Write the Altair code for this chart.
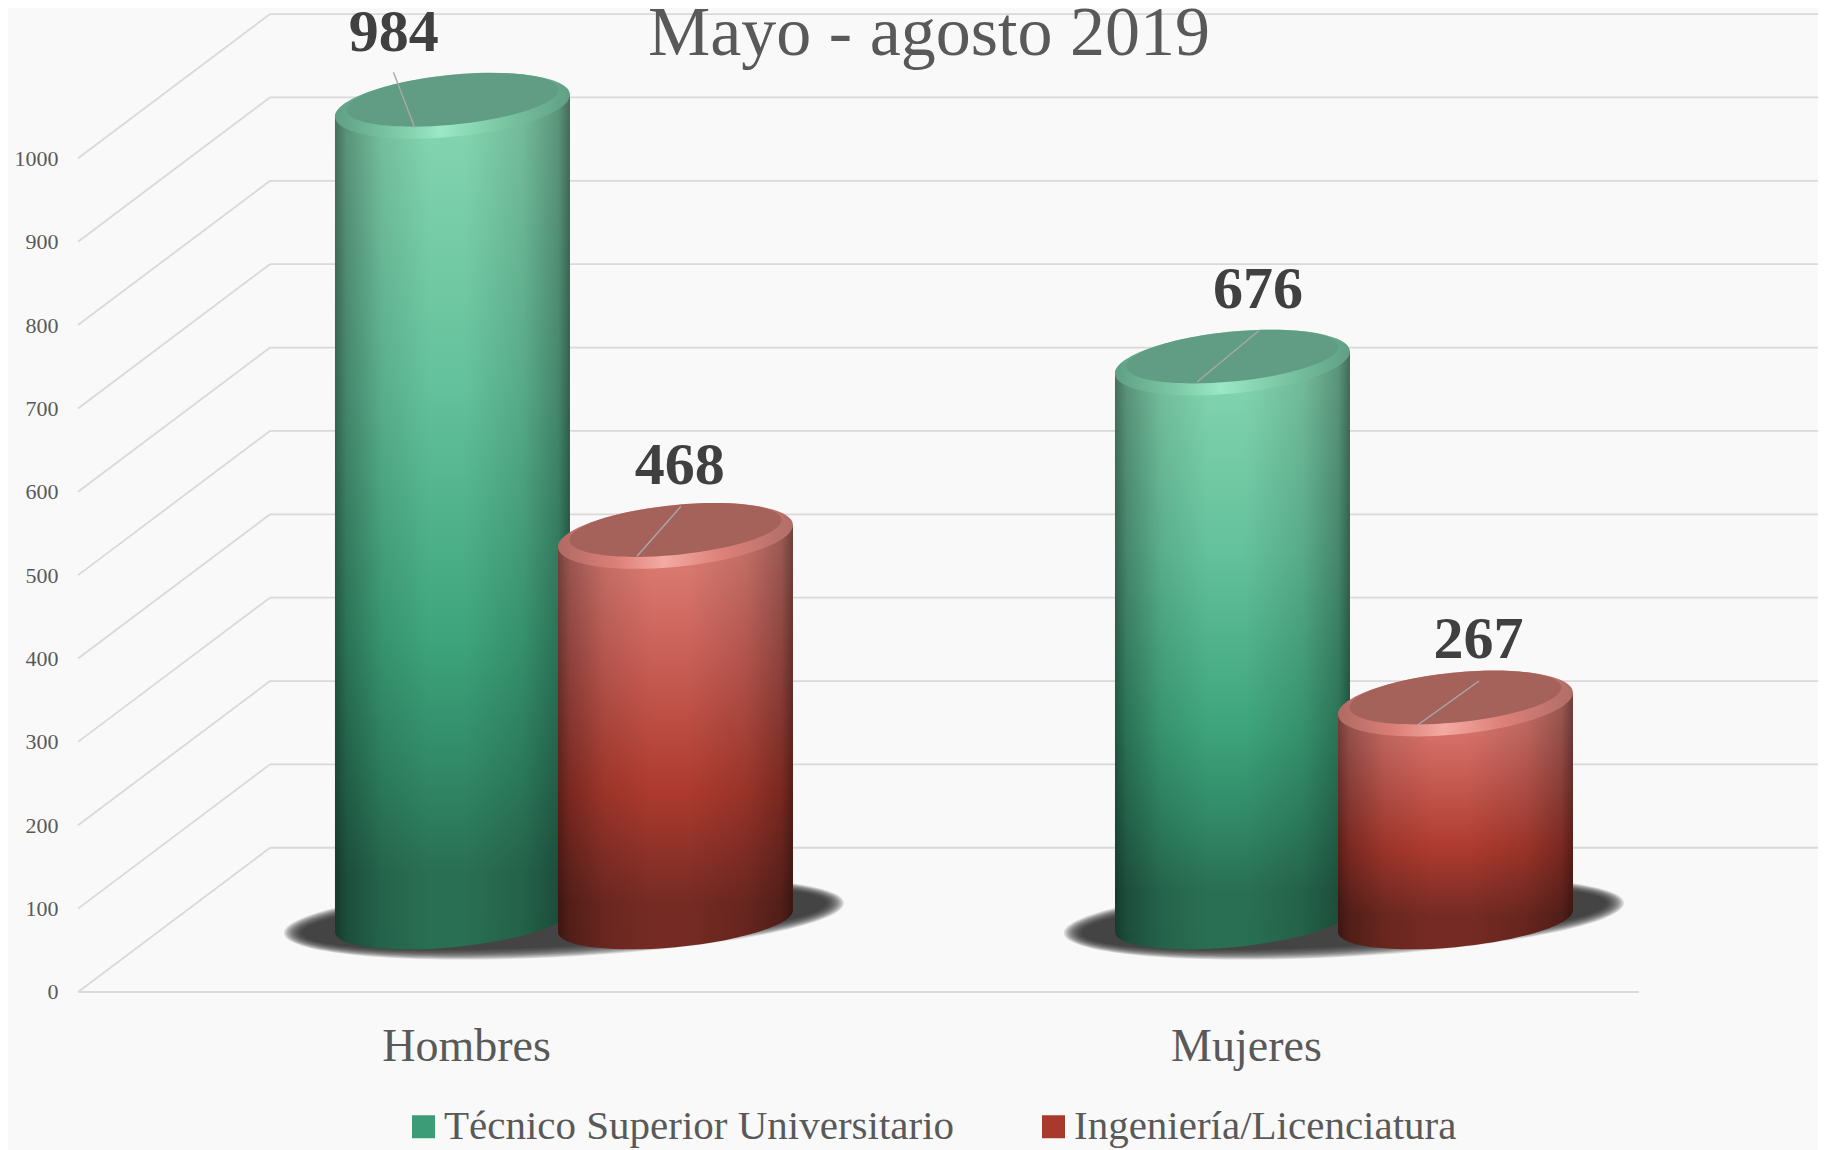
import altair as alt
import pandas as pd

categories = ["Hombres", "Mujeres"]
series_names = ["Técnico Superior Universitario", "Ingeniería/Licenciatura"]
tsu_values = [984, 676]
ing_values = [468, 267]
grid_values = list(range(0, 1001, 100))
title_text = "Mayo - agosto 2019"

FONT = "Liberation Serif"
TEXT = "#595959"
GRID = "#d9d9d9"
BG = "#f9f9f9"

# geometry of the pseudo-3D drawing
UX = 780.0        # pixels per category step
UY = 0.8337       # pixels per value unit
SERIES_OFF = [-111.5 / UX, 111.5 / UX]
BAR_W = 235.0
HALF = BAR_W / 2 / UX
TILT = 11 / UY
TOP_DEPTH = 79.0
BASE_DEPTH = 85.0
BACK_DEPTH = 173.0
FRONT_L, BACK_L, FRONT_R, BACK_R = -0.623, -0.3769, 1.378, 1.6077

# per bar: label centre, baseline and leader line offsets (pixels from the top face centre)
label_dx = {0: [-58.7, 25.6], 1: [4.3, 23.0]}
label_dy = {0: [55, 55], 1: [51.5, 46]}
lead = {
    0: [(-59, -33.5, -37.7, 22), (26.3, -31.8, -35.5, 19.5)],
    1: [(5.3, -29.4, -38.7, 20.6), (23.5, -22.5, -38.5, 22)],
}

palette = {
    0: dict(
        flat="#3d9c78",
        body=[(0, "#86d6b1"), (.35, "#63c19b"), (.65, "#3da47b"), (.8, "#318a68"), (.93, "#296f54"), (1, "#296f54")],
        rim=[(0, "#5f9f84"), (.25, "#7cc8a5"), (.45, "#9ae8c6"), (.7, "#7cc8a5"), (1, "#609f85")],
        face="#619c84",
        end="#296f54",
    ),
    1: dict(
        flat="#a8392d",
        body=[(0, "#e0847a"), (.3, "#cb625a"), (.65, "#ae3a2e"), (.8, "#8f3229"), (.93, "#752b23"), (1, "#752b23")],
        rim=[(0, "#b06a64"), (.25, "#dd8078"), (.45, "#f4aaa3"), (.7, "#dd8078"), (1, "#b06e68")],
        face="#a5625b",
        end="#752b23",
    ),
}

SHADE_STOPS = [(0, .48), (.05, .3), (.2, .1), (.4, 0), (.55, 0), (.8, .12), (.95, .3), (1, .5)]


def ellipse(b, s):
    """Unit-width sheared ellipse as an SVG path (right side higher)."""
    k = 0.5523
    pts = [(1, 0), (1, k), (k, 1), (0, 1), (-k, 1), (-1, k), (-1, 0),
           (-1, -k), (-k, -1), (0, -1), (k, -1), (1, -k), (1, 0)]
    t = [(round(x, 4), round(b * y - s * x, 4)) for x, y in pts]
    p = f"M{t[0][0]},{t[0][1]}"
    for i in range(1, 13, 3):
        p += "C" + " ".join(f"{a},{c}" for a, c in t[i:i + 3])
    return p + "Z"


def hgrad(stops):
    return {"gradient": "linear", "x1": 0, "y1": 0, "x2": 1, "y2": 0,
            "stops": [{"offset": o, "color": c} for o, c in stops]}


def vgrad(stops):
    return {"gradient": "linear", "x1": 0, "y1": 0, "x2": 0, "y2": 1,
            "stops": [{"offset": o, "color": c} for o, c in stops]}


def darken(col, alpha):
    r, g, b = (int(col[i:i + 2], 16) for i in (1, 3, 5))
    return "#%02x%02x%02x" % (int(r * (1 - alpha)), int(g * (1 - alpha)), int(b * (1 - alpha)))


SIDE_SHADE = hgrad([(o, f"rgba(0,0,0,{a})") for o, a in SHADE_STOPS])

xs = alt.Scale(domain=[-0.6333, 1.6077], nice=False, zero=False)
ys = alt.Scale(domain=[-33.6, 1180.3], nice=False, zero=False)
X_AXIS = alt.Axis(
    values=[0, 1], grid=False, domain=False, ticks=False, title=None,
    labelExpr="datum.value == 0 ? 'Hombres' : 'Mujeres'",
    labelFont=FONT, labelFontSize=46, labelColor=TEXT,
    labelOffset=-98, labelPadding=4, labelFlush=False, labelOverlap=False)
Y_AXIS = alt.Axis(
    values=grid_values, format="d", grid=False, domain=False, ticks=False, title=None,
    labelFont=FONT, labelFontSize=22, labelColor=TEXT, labelPadding=12)
X = lambda f: alt.X(f, type="quantitative", scale=xs, axis=X_AXIS)
Y = lambda f: alt.Y(f, type="quantitative", scale=ys, axis=Y_AXIS)

# ---- tables built from the value lists
rows, area_rows = [], []
for s, vals in enumerate([tsu_values, ing_values]):
    for c, v in enumerate(vals):
        xc = c + SERIES_OFF[s]
        top = v + TOP_DEPTH
        ld = lead[s][c]
        rows.append(dict(
            cat=categories[c], series=series_names[s], s=s, value=v, xc=xc,
            xl=xc - HALF * .9, xr=xc + HALF * .9, top=top, base=BASE_DEPTH,
            bar_top=top - TILT, bar_base=BASE_DEPTH + TILT,
            face=top + 7.2,
            lx=xc + label_dx[s][c] / UX, ly=top + label_dy[s][c] / UY,
            l1x=xc + ld[0] / UX, l1y=top - ld[1] / UY,
            l2x=xc + ld[2] / UX, l2y=top - ld[3] / UY,
        ))
        area_rows.append(dict(cat=categories[c], s=s, x=xc - HALF, y=top - TILT, y2=BASE_DEPTH - TILT))
        area_rows.append(dict(cat=categories[c], s=s, x=xc + HALF, y=top + TILT, y2=BASE_DEPTH + TILT))
bars = pd.DataFrame(rows)
areas = pd.DataFrame(area_rows)
grid = pd.DataFrame(dict(
    v=grid_values, back=[g + BACK_DEPTH for g in grid_values],
    fl=FRONT_L, bl=BACK_L, br=BACK_R,
))
front = pd.DataFrame(dict(v=[0], fl=[FRONT_L], fr=[FRONT_R]))
shadows = pd.DataFrame(dict(x=[0.0, 1.0], y=[(992 - 918) / UY] * 2))
title_df = pd.DataFrame(dict(t=[title_text]))

layers = []
rule = dict(color=GRID, strokeWidth=1.8)
layers.append(alt.Chart(grid).mark_rule(**rule).encode(x=X("fl"), x2="bl", y=Y("v"), y2="back"))
layers.append(alt.Chart(grid).mark_rule(**rule).encode(x=X("bl"), x2="br", y=Y("back")))
layers.append(alt.Chart(front).mark_rule(**rule).encode(x=X("fl"), x2="fr", y=Y("v")))

layers.append(alt.Chart(title_df).mark_text(
    font=FONT, fontSize=70, color=TEXT, align="center", baseline="alphabetic"
).encode(x=alt.value(859), y=alt.value(47), text="t:N"))

# soft ground shadow: nested ellipses, outermost first
for d in [18, 16.5, 15, 13.5, 12, 10.5, 9, 7.5, 6, 4.5, 3, 1.5, 0]:
    a = 262 + d
    layers.append(alt.Chart(shadows).mark_point(
        shape=ellipse((28 + d * .6) / a, 15 / a), filled=True, fill="#2a2a2a", opacity=0.14,
        strokeWidth=0, size=(2 * a) ** 2
    ).encode(x=X("x"), y=Y("y")))

legend = alt.Legend(
    title=None, orient="none", legendX=333, legendY=1098, direction="horizontal", columns=2,
    symbolType="square", symbolSize=529, symbolStrokeWidth=0, labelFont=FONT, labelFontSize=41,
    labelColor=TEXT, labelLimit=700, labelOffset=0, columnPadding=78, padding=0,
)

for s in (0, 1):
    p = palette[s]
    b = bars[bars.s == s]
    a = areas[areas.s == s]
    layers.append(alt.Chart(b).mark_point(
        shape=ellipse(26 / 117.5, 11 / 117.5), filled=True,
        fill=hgrad([(o, darken(p["end"], al)) for o, al in SHADE_STOPS]),
        opacity=1, strokeWidth=0, size=BAR_W ** 2
    ).encode(x=X("xc"), y=Y("base")))
    layers.append(alt.Chart(b).mark_bar().encode(
        x=X("xl"), x2="xr", y=Y("bar_top"), y2="bar_base",
        color=alt.Color("series:N", legend=legend, scale=alt.Scale(
            domain=series_names, range=[palette[0]["flat"], palette[1]["flat"]])),
    ))
    layers.append(alt.Chart(a).mark_area(fill=vgrad(p["body"])).encode(
        x=X("x"), y=Y("y"), y2="y2", detail="cat:N"))
    layers.append(alt.Chart(a).mark_area(fill=SIDE_SHADE).encode(
        x=X("x"), y=Y("y"), y2="y2", detail="cat:N"))
    layers.append(alt.Chart(b).mark_point(
        shape=ellipse(31 / 117.5, 11 / 117.5), filled=True, fill=hgrad(p["rim"]),
        opacity=1, strokeWidth=0, size=BAR_W ** 2
    ).encode(x=X("xc"), y=Y("top")))
    layers.append(alt.Chart(b).mark_point(
        shape=ellipse(25 / 106, 10 / 106), filled=True, fill=p["face"],
        opacity=1, strokeWidth=0, size=212 ** 2
    ).encode(x=X("xc"), y=Y("face")))

layers.append(alt.Chart(bars).mark_rule(color="#a9a9a9", strokeWidth=1.4).encode(
    x=X("l1x"), x2="l2x", y=Y("l1y"), y2="l2y"))
layers.append(alt.Chart(bars).mark_text(
    font=FONT, fontSize=60, fontWeight="bold", color="#404040", baseline="alphabetic", align="center"
).encode(x=X("lx"), y=Y("ly"), text="value:Q"))

chart = alt.layer(*layers).properties(
    width=1748,
    height=1012,
    background=BG,
    padding={"left": 62, "top": 0, "right": 0, "bottom": 130},
    autosize=alt.AutoSizeParams(type="none"),
).configure_view(stroke=None)

chart.save("out.html", embed_options={"renderer": "svg", "actions": False})
